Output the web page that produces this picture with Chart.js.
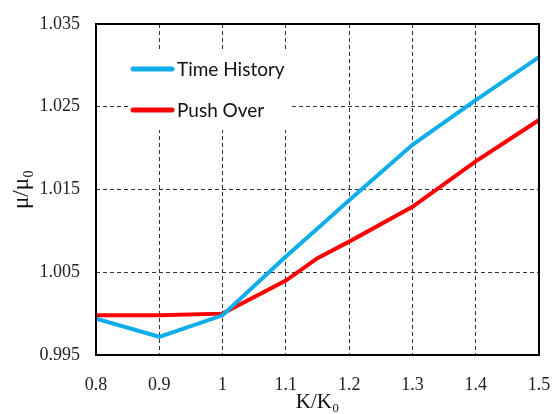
<!DOCTYPE html>
<html>
<head>
<meta charset="utf-8">
<script src="https://cdn.jsdelivr.net/npm/chart.js@4.4.1/dist/chart.umd.min.js"></script>
<style>
  html, body { margin: 0; padding: 0; background: #fff; }
  #wrap { width: 552px; height: 414px; }
</style>
</head>
<body>
<div id="wrap"><canvas id="c" width="552" height="414"></canvas></div>
<script>
// ---- data ----
const kValues = [0.8, 0.9, 1.0, 1.1, 1.15, 1.2, 1.3, 1.4, 1.5];
const timeHistory = [0.9994, 0.9972, 0.9998, 1.0069, 1.0103, 1.0137, 1.0204, 1.0258, 1.0310];
const pushOver    = [0.9998, 0.9998, 1.0000, 1.0040, 1.0067, 1.0087, 1.0129, 1.0184, 1.0234];
const seriesNames = ['Time History', 'Push Over'];
const xTicks = [0.8, 0.9, 1.0, 1.1, 1.2, 1.3, 1.4, 1.5];
const xTickLabels = ['0.8', '0.9', '1', '1.1', '1.2', '1.3', '1.4', '1.5'];
const yTicks = [0.995, 1.005, 1.015, 1.025, 1.035];
const yTickLabels = ['0.995', '1.005', '1.015', '1.025', '1.035'];

const toPoints = (ys) => kValues.map((k, i) => ({ x: k, y: ys[i] }));

const frameAndLegend = {
  id: 'frameAndLegend',
  afterDraw(chart) {
    const { ctx, chartArea: a } = chart;
    ctx.save();
    ctx.fillStyle = '#ffffff';
    ctx.fillRect(128, 49, 162, 81);
    const rows = [69, 110];
    chart.data.datasets.forEach((ds, i) => {
      const y = rows[i];
      ctx.strokeStyle = ds.borderColor;
      ctx.lineWidth = 5;
      ctx.lineCap = 'round';
      ctx.beginPath();
      ctx.moveTo(133, y);
      ctx.lineTo(172, y);
      ctx.stroke();
      ctx.fillStyle = '#111';
      ctx.font = '19px Lato, "Open Sans", sans-serif';
      ctx.textBaseline = 'middle';
      ctx.textAlign = 'left';
      ctx.fillText(ds.label, 177, y + 1);
    });
    ctx.strokeStyle = '#000';
    ctx.lineWidth = 2;
    ctx.lineCap = 'butt';
    ctx.strokeRect(a.left, a.top, a.right - a.left, a.bottom - a.top);
    ctx.restore();
  }
};

const gridStyle = {
  color: (c) => (c.index === 0 || c.index === c.chart.scales[c.scale.id].ticks.length - 1) ? 'rgba(0,0,0,0)' : '#333',
  lineWidth: 1,
  drawTicks: false
};

new Chart(document.getElementById('c'), {
  type: 'line',
  data: {
    datasets: [
      { label: seriesNames[0], data: toPoints(timeHistory), borderColor: '#0fadea', borderWidth: 4, pointRadius: 0, tension: 0, fill: false },
      { label: seriesNames[1], data: toPoints(pushOver), borderColor: '#ff0000', borderWidth: 4, pointRadius: 0, tension: 0, fill: false }
    ]
  },
  options: {
    responsive: false,
    animation: false,
    layout: { padding: { top: 24, right: 13, left: 0, bottom: 0 } },
    plugins: { legend: { display: false }, tooltip: { enabled: false } },
    scales: {
      x: {
        type: 'linear',
        min: 0.8, max: 1.5,
        afterBuildTicks: (s) => { s.ticks = xTicks.map(v => ({ value: v })); },
        afterFit: (s) => { s.height = 59; s.paddingLeft = 0; s.paddingRight = 0; },
        ticks: {
          padding: 19,
          color: '#222',
          font: { family: '"Liberation Serif", "Times New Roman", serif', size: 18 },
          callback: (v, i) => xTickLabels[i]
        },
        grid: { ...gridStyle },
        border: { display: false, dash: [4, 3] },
        title: {
          display: true, text: 'K/K₀', color: '#111',
          font: { family: '"Liberation Serif", "Times New Roman", serif', size: 21 },
          padding: { top: 0, bottom: -1 }
        }
      },
      y: {
        type: 'linear',
        min: 0.995, max: 1.035,
        afterBuildTicks: (s) => { s.ticks = yTicks.map(v => ({ value: v })); },
        afterFit: (s) => { s.width = 96; s.paddingTop = 0; s.paddingBottom = 0; },
        ticks: {
          padding: 16,
          color: '#222',
          font: { family: '"Liberation Serif", "Times New Roman", serif', size: 18 },
          callback: (v, i) => yTickLabels[i]
        },
        grid: { ...gridStyle },
        border: { display: false, dash: [4, 3] },
        title: {
          display: true, text: 'μ/μ₀', color: '#111',
          font: { family: '"Liberation Serif", "Times New Roman", serif', size: 23 },
          padding: { top: 8, bottom: 0 }
        }
      }
    }
  },
  plugins: [frameAndLegend]
});
</script>
</body>
</html>
